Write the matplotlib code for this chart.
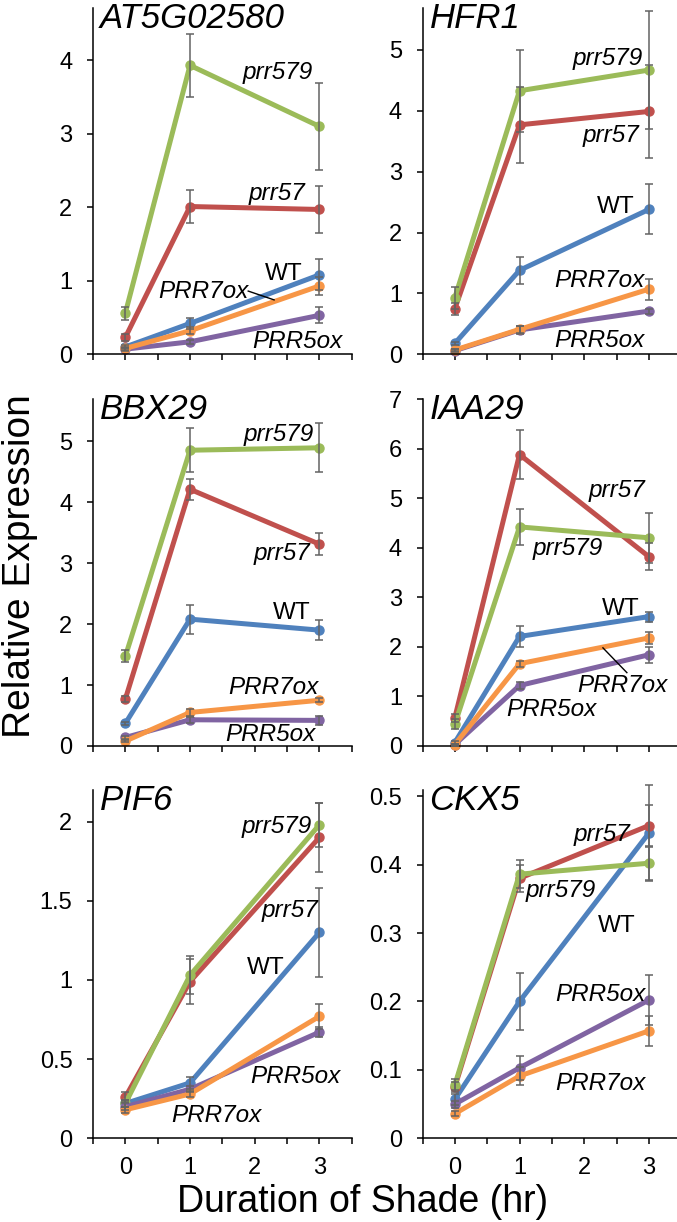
import matplotlib
matplotlib.use("Agg")
import matplotlib.pyplot as plt
from matplotlib.ticker import FuncFormatter
import numpy as np

plt.rcParams['font.family'] = ['Liberation Sans', 'DejaVu Sans']

# ---------------- data ----------------
hours = [0, 1, 3]
series_names = ["WT", "prr57", "prr579", "PRR5ox", "PRR7ox"]
series_colors = ["#4F81BD", "#C0504D", "#9BBB59", "#8064A2", "#F79646"]
genes = ["AT5G02580", "HFR1", "BBX29", "IAA29", "PIF6", "CKX5"]

# mean values per gene, per series (order of series_names)
at5g02580_mean = [[0.10, 0.42, 1.08], [0.23, 2.01, 1.97], [0.56, 3.93, 3.10],
                  [0.07, 0.17, 0.53], [0.08, 0.32, 0.93]]
at5g02580_err = [[0.02, 0.08, 0.21], [0.05, 0.23, 0.32], [0.09, 0.43, 0.59],
                 [0.02, 0.03, 0.11], [0.02, 0.05, 0.12]]

hfr1_mean = [[0.18, 1.38, 2.38], [0.75, 3.77, 3.99], [0.93, 4.33, 4.67],
             [0.06, 0.40, 0.71], [0.07, 0.41, 1.07]]
hfr1_err = [[0.03, 0.22, 0.41], [0.10, 0.63, 0.76], [0.18, 0.67, 0.97],
            [0.02, 0.07, 0.04], [0.02, 0.06, 0.17]]

bbx29_mean = [[0.37, 2.08, 1.90], [0.77, 4.21, 3.31], [1.47, 4.85, 4.89],
              [0.14, 0.43, 0.42], [0.08, 0.55, 0.75]]
bbx29_err = [[0.03, 0.24, 0.17], [0.05, 0.17, 0.18], [0.10, 0.36, 0.40],
             [0.03, 0.05, 0.07], [0.02, 0.05, 0.03]]

iaa29_mean = [[0.07, 2.21, 2.61], [0.57, 5.88, 3.82], [0.44, 4.42, 4.20],
              [0.03, 1.22, 1.84], [0.03, 1.66, 2.18]]
iaa29_err = [[0.03, 0.21, 0.10], [0.08, 0.49, 0.27], [0.10, 0.37, 0.51],
             [0.02, 0.08, 0.16], [0.02, 0.06, 0.12]]

pif6_mean = [[0.22, 0.35, 1.30], [0.26, 0.99, 1.90], [0.22, 1.03, 1.98],
             [0.20, 0.31, 0.67], [0.18, 0.28, 0.77]]
pif6_err = [[0.02, 0.04, 0.28], [0.03, 0.14, 0.22], [0.02, 0.12, 0.14],
            [0.02, 0.02, 0.03], [0.02, 0.02, 0.08]]

ckx5_mean = [[0.057, 0.200, 0.446], [0.075, 0.380, 0.457], [0.078, 0.386, 0.402],
             [0.050, 0.103, 0.202], [0.036, 0.091, 0.157]]
ckx5_err = [[0.008, 0.042, 0.070], [0.008, 0.020, 0.030], [0.008, 0.020, 0.024],
            [0.005, 0.018, 0.036], [0.004, 0.013, 0.022]]

all_means = [at5g02580_mean, hfr1_mean, bbx29_mean, iaa29_mean, pif6_mean, ckx5_mean]
all_errs = [at5g02580_err, hfr1_err, bbx29_err, iaa29_err, pif6_err, ckx5_err]

y_tops = [4.71, 5.69, 5.69, 7.0, 2.2, 0.509]
y_steps = [1, 1, 1, 1, 0.5, 0.1]
y_maxtick = [4, 5, 5, 7, 2, 0.5]

# series label placement (name, x, y, ha) in data units
labels = [
    [("prr579", 2.90, 3.74, "right"), ("prr57", 2.78, 2.10, "right"),
     ("WT", 2.74, 1.01, "right"), ("PRR7ox", 0.51, 0.77, "left"),
     ("PRR5ox", 1.96, 0.09, "left")],
    [("prr579", 2.91, 4.75, "right"), ("prr57", 2.86, 3.49, "right"),
     ("WT", 2.78, 2.32, "right"), ("PRR7ox", 2.94, 1.10, "right"),
     ("PRR5ox", 2.94, 0.12, "right")],
    [("prr579", 2.91, 5.00, "right"), ("prr57", 2.86, 3.05, "right"),
     ("WT", 2.86, 2.09, "right"), ("PRR7ox", 2.99, 0.86, "right"),
     ("PRR5ox", 2.94, 0.08, "right")],
    [("prr57", 2.94, 5.03, "right"), ("prr579", 1.21, 3.85, "left"),
     ("WT", 2.86, 2.65, "right"), ("PRR7ox", 1.90, 1.09, "left"),
     ("PRR5ox", 0.80, 0.60, "left")],
    [("prr579", 2.89, 1.93, "right"), ("prr57", 2.99, 1.40, "right"),
     ("WT", 1.88, 1.04, "left"), ("PRR5ox", 1.93, 0.35, "left"),
     ("PRR7ox", 0.71, 0.10, "left")],
    [("prr57", 2.72, 0.434, "right"), ("prr579", 1.10, 0.352, "left"),
     ("WT", 2.80, 0.301, "right"), ("PRR5ox", 2.95, 0.201, "right"),
     ("PRR7ox", 2.95, 0.070, "right")],
]
# leader lines: panel index -> ((x0, y0), (x1, y1))
leaders = {0: ((1.90, 0.86), (2.30, 0.74)), 3: ((2.29, 1.98), (2.66, 1.48))}

# ---------------- layout ----------------
W, H = 677, 1222
fig = plt.figure(figsize=(W / 100, H / 100), dpi=100)
col_left = [93, 422.5]
col_width = 258.7
rows = [(8, 354.3), (399, 746), (790, 1138.3)]

for i, gene in enumerate(genes):
    r, c = divmod(i, 2)
    top, bot = rows[r]
    ax = fig.add_axes([col_left[c] / W, (H - bot) / H, col_width / W, (bot - top) / H])
    ax.set_xlim(-0.5, 3.5)
    ax.set_ylim(0, y_tops[i])
    for s, (name, col) in enumerate(zip(series_names, series_colors)):
        ax.plot(hours, all_means[i][s], color=col, lw=3.6, marker='o', ms=6.5,
                solid_capstyle='round', zorder=2 + s * 0.1, clip_on=False)
    for s in range(len(series_names)):
        ax.errorbar(hours, all_means[i][s], yerr=all_errs[i][s], fmt='none',
                    ecolor='#636363', elinewidth=1.1, capsize=3.2, capthick=1.1,
                    zorder=3, clip_on=False)
    ax.spines['top'].set_visible(False)
    ax.spines['right'].set_visible(False)
    ax.spines['left'].set_linewidth(1.1)
    ax.spines['bottom'].set_linewidth(1.1)
    ax.set_yticks(np.arange(0, y_maxtick[i] + y_steps[i] / 2, y_steps[i]))
    ax.yaxis.set_major_formatter(FuncFormatter(lambda v, p: "%g" % round(v, 3)))
    ax.set_xticks(np.arange(-0.5, 3.51, 0.5))
    if r == 2:
        ax.set_xticklabels(["" if abs(t - round(t)) > 1e-6 or t < 0 else "%d" % round(t)
                            for t in np.arange(-0.5, 3.51, 0.5)])
    else:
        ax.set_xticklabels([])
    ax.tick_params(axis='both', direction='out', length=4.3, width=1.1,
                   labelsize=17, colors='black')
    ax.tick_params(axis='y', pad=10.5)
    ax.tick_params(axis='x', pad=9)
    ax.text(0.027, 0.942, gene, transform=ax.transAxes, fontsize=25,
            style='italic', va='baseline', ha='left')
    for (name, lx, ly, ha) in labels[i]:
        ax.text(lx, ly, name, fontsize=17.5, ha=ha, va='baseline',
                style='normal' if name == "WT" else 'italic', zorder=5)
    if i in leaders:
        (x0, y0), (x1, y1) = leaders[i]
        ax.plot([x0, x1], [y0, y1], color='black', lw=1.0, zorder=5)

fig.text(30 / W, (H - 566) / H, "Relative Expression", rotation=90, fontsize=28,
         ha='center', va='baseline', rotation_mode='anchor')
fig.text(362.5 / W, (H - 1212) / H, "Duration of Shade (hr)", fontsize=27,
         ha='center', va='baseline')

fig.savefig("out.png", dpi=100)
